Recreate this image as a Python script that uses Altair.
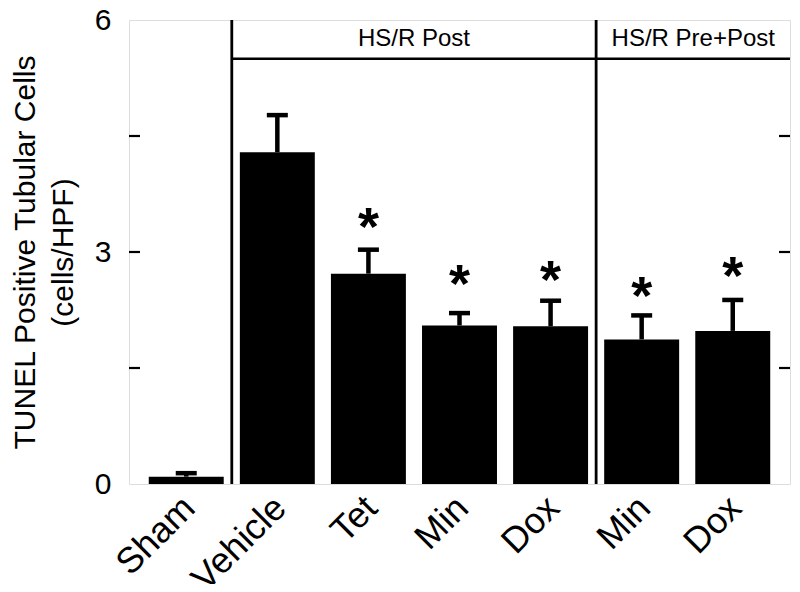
import altair as alt
import pandas as pd

# ---- data ----
labels = ["Sham", "Vehicle", "Tet", "Min", "Dox", "Min", "Dox"]
groups = ["Sham", "Post", "Post", "Post", "Post", "PrePost", "PrePost"]
means = [0.095, 4.29, 2.72, 2.05, 2.04, 1.87, 1.98]
uppers = [0.14, 4.77, 3.03, 2.21, 2.37, 2.18, 2.38]
star_y = [None, None, 3.49, 2.75, 2.80, 2.60, 2.86]
y_tick_labels = [0, 3, 6]
y_inner_ticks = [1.5, 3, 4.5]
header_names = ["HS/R Post", "HS/R Pre+Post"]

keys = [f"{l}|{g}" for l, g in zip(labels, groups)]
df = pd.DataFrame({"key": keys, "mean": means, "upper": uppers})
stars = pd.DataFrame({"key": [k for k, s in zip(keys, star_y) if s is not None],
                      "y": [s for s in star_y if s is not None]})

W, H = 661, 464
PI, PO = 0.177, 0.217
step = W / (len(keys) - PI + 2 * PO)
half_gap = step * PI / 2

FONT = "Liberation Sans"

xscale = alt.Scale(domain=keys, paddingInner=PI, paddingOuter=PO)
yscale = alt.Scale(domain=[0, 6], nice=False, zero=True)

x_enc = alt.X("key:N", scale=xscale, sort=keys,
              axis=alt.Axis(title=None, labelExpr="split(datum.label, '|')[0]",
                            labelAngle=-45, labelFontSize=36, labelColor="black",
                            labelPadding=6, labelOffset=-9, ticks=False, domain=False,
                            labelFont=FONT))
y_enc = alt.Y("mean:Q", scale=yscale,
              axis=alt.Axis(title=["TUNEL Positive Tubular Cells", "(cells/HPF)"],
                            values=y_tick_labels, format="d", ticks=False, tickSize=0,
                            domain=False, grid=False, labelFontSize=30,
                            labelColor="black", labelPadding=18, titleFontSize=30,
                            titleFontWeight="normal", titleColor="black",
                            titleLineHeight=38, titlePadding=16,
                            labelFont=FONT, titleFont=FONT))

bars = alt.Chart(df).mark_bar(color="black").encode(x=x_enc, y=y_enc)

err = alt.Chart(df).mark_rule(color="black", strokeWidth=4.5).encode(
    x=alt.X("key:N", scale=xscale, sort=keys),
    y=alt.Y("mean:Q", scale=yscale),
    y2="upper:Q")

caps = alt.Chart(df).mark_tick(color="black", orient="horizontal", size=21,
                               thickness=4.5, opacity=1).encode(
    x=alt.X("key:N", scale=xscale, sort=keys),
    y=alt.Y("upper:Q", scale=yscale))

star_size = 54
star_marks = alt.Chart(stars).mark_text(text="*", fontSize=star_size, fontWeight="bold",
                                        baseline="alphabetic", dy=0.57 * star_size,
                                        color="black", font=FONT).encode(
    x=alt.X("key:N", scale=xscale, sort=keys),
    y=alt.Y("y:Q", scale=yscale))

# dividers between groups (at the end of Sham and of the last Post bar)
div_df = pd.DataFrame({"key": [keys[0], keys[4]], "y0": [0, 0], "y1": [6, 6]})
dividers = alt.Chart(div_df).mark_rule(color="black", strokeWidth=2.8,
                                       xOffset=half_gap).encode(
    x=alt.X("key:N", scale=xscale, sort=keys, bandPosition=1),
    y=alt.Y("y0:Q", scale=yscale), y2="y1:Q")

# header band line
hdr_df = pd.DataFrame({"key": [keys[1]], "y": [5.5]})
hdr_line = alt.Chart(hdr_df).mark_rule(color="black", strokeWidth=2.5,
                                       xOffset=-half_gap).encode(
    x=alt.X("key:N", scale=xscale, sort=keys, bandPosition=0),
    x2=alt.value(W),
    y=alt.Y("y:Q", scale=yscale))

# header texts
hdr_txt_df = pd.DataFrame({"key": [keys[3], keys[6]], "name": header_names,
                           "y": [5.75, 5.75]})
hdr_txt1 = alt.Chart(hdr_txt_df.iloc[[0]]).mark_text(
    fontSize=24, baseline="middle", align="center", color="black", font=FONT,
    xOffset=-half_gap).encode(
    x=alt.X("key:N", scale=xscale, sort=keys, bandPosition=0),
    y=alt.Y("y:Q", scale=yscale), text="name:N")
hdr_txt2 = alt.Chart(hdr_txt_df.iloc[[1]]).mark_text(
    fontSize=24, baseline="middle", align="center", color="black", font=FONT,
    xOffset=-2).encode(
    x=alt.X("key:N", scale=xscale, sort=keys, bandPosition=0),
    y=alt.Y("y:Q", scale=yscale), text="name:N")

# inward ticks on left and right
tick_df = pd.DataFrame({"y": y_inner_ticks})
lticks = alt.Chart(tick_df).mark_rule(color="black", strokeWidth=2.2).encode(
    x=alt.value(0), x2=alt.value(11), y=alt.Y("y:Q", scale=yscale))
rticks = alt.Chart(tick_df).mark_rule(color="black", strokeWidth=2.2).encode(
    x=alt.value(W - 11), x2=alt.value(W), y=alt.Y("y:Q", scale=yscale))

chart = alt.layer(bars, err, caps, star_marks, dividers, hdr_line, hdr_txt1, hdr_txt2,
                  lticks, rticks).properties(
    width=W, height=H,
    autosize=alt.AutoSizeParams(type="none"),
    padding={"left": 121, "top": 12, "right": 2, "bottom": 100},
).configure_view(stroke="black", strokeWidth=2.8).configure(font=FONT, background="white")

chart.save("out.html", embed_options={"renderer": "svg", "actions": False})
